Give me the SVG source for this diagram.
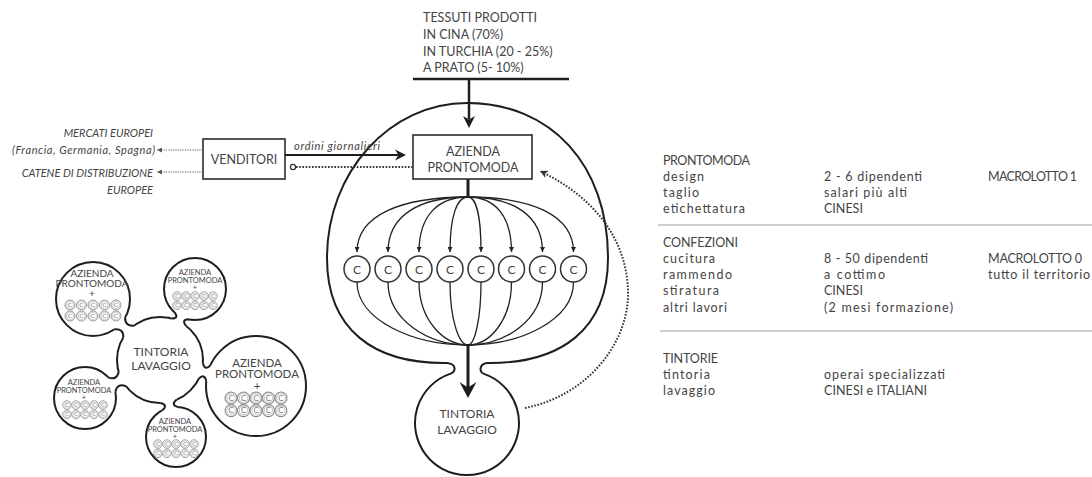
<svg xmlns="http://www.w3.org/2000/svg" xmlns:xlink="http://www.w3.org/1999/xlink" width="1092" height="477" viewBox="0 0 1092 477">
<style>
.t{font-family:Lato,"Liberation Sans",sans-serif;fill:#444;font-size:12.5px}
.it{font-style:italic;font-size:11px}
.mid{text-anchor:middle}
.end{text-anchor:end}
.ln{fill:none;stroke:#1e1e1e;stroke-width:2}
.shape{fill:#fff;stroke:#1e1e1e;stroke-width:2}
.fan{fill:none;stroke:#222;stroke-width:1.3}
.dot{fill:none;stroke:#333;stroke-width:2;stroke-dasharray:1.6 1.6}
.dotl{fill:none;stroke:#555;stroke-width:1.2;stroke-dasharray:1.2 1.2}
.cc{fill:#fff;stroke:#333;stroke-width:1.5}
.sep{stroke:#cfcfcf;stroke-width:2}
.neckfill{fill:#fff;stroke:none}
.small{fill:#fff;stroke:#888;stroke-width:0.9}
</style>
<defs>
<marker id="ah" viewBox="0 0 10 10" refX="10" refY="5" markerWidth="5" markerHeight="5" markerUnits="userSpaceOnUse" orient="auto"><path d="M0,0 L10,5 L0,10 z" fill="#222"/></marker>
<marker id="ahd" viewBox="0 0 10 10" refX="10" refY="5" markerWidth="8" markerHeight="8" markerUnits="userSpaceOnUse" orient="auto"><path d="M0,0 L10,5 L0,10 L3,5 z" fill="#333"/></marker>
<marker id="ahs" viewBox="0 0 10 10" refX="10" refY="5" markerWidth="5" markerHeight="5" markerUnits="userSpaceOnUse" orient="auto"><path d="M0,0 L10,5 L0,10 z" fill="#555"/></marker>
<g id="c"><circle r="5" class="small"/><circle r="3.6" fill="none" stroke="#aaa" stroke-width="0.6"/><text y="2.4" class="t mid" style="font-size:6.5px;fill:#777">C</text></g>
</defs>

<g id="tessuti">
<text class="t" x="423" y="22">TESSUTI PRODOTTI</text>
<text class="t" x="423" y="38.5">IN CINA (70%)</text>
<text class="t" x="423" y="55.5">IN TURCHIA (20 - 25%)</text>
<text class="t" x="423" y="72">A PRATO (5- 10%)</text>
<line x1="413" y1="79" x2="569" y2="79" stroke="#1e1e1e" stroke-width="2.5"/>
</g>

<g id="sistema">
<path class="shape" d="M484,373.9 A52 52 0 1 1 450,373.9 C456,372 457,364 447,363 C374,364 327,330 327,258 C327,172 390,103 467,103 C551,103 608,165 608,258 C608,330 560,364 487,363 C479,364 479,372 484,373.9 Z"/>
</g>

<g id="venditori">
<rect x="203" y="139" width="82" height="40" fill="#fff" stroke="#1e1e1e" stroke-width="1.5"/>
<text class="t mid" x="244" y="164">VENDITORI</text>
</g>

<g id="mercati">
<text class="t it end" x="153" y="137">MERCATI EUROPEI</text>
<text class="t it end" x="155" y="154" textLength="143">(Francia, Germania, Spagna)</text>
</g>
<g id="catene">
<text class="t it end" x="153" y="177">CATENE DI DISTRIBUZIONE</text>
<text class="t it end" x="153" y="194">EUROPEE</text>
</g>

<g id="azienda">
<rect x="413" y="135" width="119" height="44" fill="#fff" stroke="#1e1e1e" stroke-width="1.5"/>
<text class="t mid" x="473" y="155.5">AZIENDA</text>
<text class="t mid" x="473" y="171.5">PRONTOMODA</text>
</g>

<g id="confezioni">
<circle class="cc" cx="357" cy="269" r="13"/><text class="t mid" x="357" y="273.5" style="font-size:12px">C</text>
<circle class="cc" cx="388" cy="269" r="13"/><text class="t mid" x="388" y="273.5" style="font-size:12px">C</text>
<circle class="cc" cx="419" cy="269" r="13"/><text class="t mid" x="419" y="273.5" style="font-size:12px">C</text>
<circle class="cc" cx="450" cy="269" r="13"/><text class="t mid" x="450" y="273.5" style="font-size:12px">C</text>
<circle class="cc" cx="481" cy="269" r="13"/><text class="t mid" x="481" y="273.5" style="font-size:12px">C</text>
<circle class="cc" cx="511.5" cy="269" r="13"/><text class="t mid" x="511.5" y="273.5" style="font-size:12px">C</text>
<circle class="cc" cx="542.5" cy="269" r="13"/><text class="t mid" x="542.5" y="273.5" style="font-size:12px">C</text>
<circle class="cc" cx="573.5" cy="269" r="13"/><text class="t mid" x="573.5" y="273.5" style="font-size:12px">C</text>
</g>

<g id="tintoria">
<text class="t mid" x="467" y="417.5" style="font-size:12px">TINTORIA</text>
<text class="t mid" x="467" y="433.5" style="font-size:12px">LAVAGGIO</text>
</g>

<g id="connettori">
<line x1="469" y1="79" x2="469" y2="119" stroke="#1e1e1e" stroke-width="2.5"/>
<path d="M469,128 L463,116 L469,119.5 L475,116 Z" fill="#1e1e1e"/>
<line x1="468" y1="179" x2="468" y2="198" stroke="#1e1e1e" stroke-width="3"/>
<path class="fan" marker-end="url(#ah)" d="M468,197 C401.4,197 357,215 357,252"/>
<path class="fan" marker-end="url(#ah)" d="M468,197 C420,197 388,215 388,252"/>
<path class="fan" marker-end="url(#ah)" d="M468,197 C438.6,197 419,215 419,252"/>
<path class="fan" marker-end="url(#ah)" d="M468,197 C457.2,197 450,215 450,252"/>
<path class="fan" marker-end="url(#ah)" d="M468,197 C475.8,197 481,215 481,252"/>
<path class="fan" marker-end="url(#ah)" d="M468,197 C494.1,197 511.5,215 511.5,252"/>
<path class="fan" marker-end="url(#ah)" d="M468,197 C512.7,197 542.5,215 542.5,252"/>
<path class="fan" marker-end="url(#ah)" d="M468,197 C531.3,197 573.5,215 573.5,252"/>
<path class="fan" d="M357,282 C357,320 412.5,345 468,345"/>
<path class="fan" d="M388,282 C388,320 428,345 468,345"/>
<path class="fan" d="M419,282 C419,320 443.5,345 468,345"/>
<path class="fan" d="M450,282 C450,320 459,345 468,345"/>
<path class="fan" d="M481,282 C481,320 474.5,345 468,345"/>
<path class="fan" d="M511.5,282 C511.5,320 489.8,345 468,345"/>
<path class="fan" d="M542.5,282 C542.5,320 505.3,345 468,345"/>
<path class="fan" d="M573.5,282 C573.5,320 520.8,345 468,345"/>
<line x1="468" y1="344" x2="468" y2="389" stroke="#1e1e1e" stroke-width="3"/>
<path d="M468,398 L459.5,382 L468,387.5 L476.5,382 Z" fill="#1e1e1e"/>
<path class="dot" marker-end="url(#ahd)" d="M525,408 C590,395 630,340 628,290 C626,235 590,195 540,171"/>
<line x1="285" y1="155" x2="399" y2="155" stroke="#1e1e1e" stroke-width="2"/>
<path d="M406,155 L395,149.5 L398.5,155 L395,160.5 Z" fill="#1e1e1e"/>
<text class="t it" x="294" y="150" textLength="86">ordini giornalieri</text>
<circle cx="293" cy="167" r="2.6" fill="#fff" stroke="#333" stroke-width="1.2"/>
<line class="dot" x1="296" y1="167" x2="413" y2="167"/>
<path class="dotl" marker-end="url(#ahs)" d="M203,150 L157,150"/>
<path class="dotl" marker-end="url(#ahs)" d="M203,172 L157,172"/>
</g>

<g id="cluster">
<g id="cl-tintoria"><circle class="shape" cx="160" cy="360" r="43"/></g>
<g id="cl-a"><circle class="shape" cx="93" cy="299" r="37"/></g>
<g id="cl-b"><circle class="shape" cx="195" cy="289" r="31"/></g>
<g id="cl-c"><circle class="shape" cx="256" cy="386" r="50"/></g>
<g id="cl-d"><circle class="shape" cx="85" cy="398" r="31"/></g>
<g id="cl-e"><circle class="shape" cx="176" cy="437" r="30"/></g>
<g id="cl-necks">
<g transform="translate(160,360) rotate(222.32)"><path class="neckfill" d="M42.25,-8 Q48.37,-1 54.48,-8 L57,-8 L57,8 L54.48,8 Q48.37,1 42.25,8 L39,8 L39,-8 Z"/><path class="ln" d="M42.25,-8 Q48.37,-1 54.48,-8 M42.25,8 Q48.37,1 54.48,8"/></g>
<g transform="translate(160,360) rotate(-63.76)"><path class="neckfill" d="M42.25,-8 Q45.75,-1 49.25,-8 L52,-8 L52,8 L49.25,8 Q45.75,1 42.25,8 L39,8 L39,-8 Z"/><path class="ln" d="M42.25,-8 Q45.75,-1 49.25,-8 M42.25,8 Q45.75,1 49.25,8"/></g>
<g transform="translate(160,360) rotate(15.15)"><path class="neckfill" d="M42.25,-8 Q46.18,-1 50.1,-8 L53,-8 L53,8 L50.1,8 Q46.18,1 42.25,8 L39,8 L39,-8 Z"/><path class="ln" d="M42.25,-8 Q46.18,-1 50.1,-8 M42.25,8 Q46.18,1 50.1,8"/></g>
<g transform="translate(160,360) rotate(153.13)"><path class="neckfill" d="M42.25,-8 Q48.19,-1 54.13,-8 L57,-8 L57,8 L54.13,8 Q48.19,1 42.25,8 L39,8 L39,-8 Z"/><path class="ln" d="M42.25,-8 Q48.19,-1 54.13,-8 M42.25,8 Q48.19,1 54.13,8"/></g>
<g transform="translate(160,360) rotate(78.26)"><path class="neckfill" d="M42.25,-8 Q45.99,-1 49.73,-8 L52.5,-8 L52.5,8 L49.73,8 Q45.99,1 42.25,8 L39,8 L39,-8 Z"/><path class="ln" d="M42.25,-8 Q45.99,-1 49.73,-8 M42.25,8 Q45.99,1 49.73,8"/></g>
</g>
<g id="cl-texts">
<text class="t mid" x="161" y="356" style="font-size:12px">TINTORIA</text>
<text class="t mid" x="161" y="370" style="font-size:12px">LAVAGGIO</text>

<text class="t mid" x="92" y="276.6" style="font-size:10px">AZIENDA</text>
<text class="t mid" x="92" y="286.6" style="font-size:10px">PRONTOMODA</text>
<text class="t mid" x="92" y="296.5" style="font-size:10px">+</text>
<g transform="translate(93,305)"><use href="#c" x="-23"/><use href="#c" x="-11.5"/><use href="#c"/><use href="#c" x="11.5"/><use href="#c" x="23"/><use href="#c" x="-23" y="11"/><use href="#c" x="-11.5" y="11"/><use href="#c" y="11"/><use href="#c" x="11.5" y="11"/><use href="#c" x="23" y="11"/></g>

<text class="t mid" x="195" y="274.7" style="font-size:7.5px">AZIENDA</text>
<text class="t mid" x="195" y="282.7" style="font-size:7.5px">PRONTOMODA</text>
<text class="t mid" x="195" y="290" style="font-size:7.5px">+</text>
<g transform="translate(195,296) scale(0.85)"><use href="#c" x="-21.2"/><use href="#c" x="-10.6"/><use href="#c"/><use href="#c" x="10.6"/><use href="#c" x="21.2"/><use href="#c" x="-21.2" y="11"/><use href="#c" x="-10.6" y="11"/><use href="#c" y="11"/><use href="#c" x="10.6" y="11"/><use href="#c" x="21.2" y="11"/></g>

<text class="t mid" x="257" y="366.5" style="font-size:11.5px">AZIENDA</text>
<text class="t mid" x="257" y="377.5" style="font-size:11.5px">PRONTOMODA</text>
<text class="t mid" x="257" y="390" style="font-size:11.5px">+</text>
<g transform="translate(256,398) scale(1.2)"><use href="#c" x="-20.8"/><use href="#c" x="-10.4"/><use href="#c"/><use href="#c" x="10.4"/><use href="#c" x="20.8"/><use href="#c" x="-20.8" y="10.5"/><use href="#c" x="-10.4" y="10.5"/><use href="#c" y="10.5"/><use href="#c" x="10.4" y="10.5"/><use href="#c" x="20.8" y="10.5"/></g>

<text class="t mid" x="84" y="384.7" style="font-size:7.5px">AZIENDA</text>
<text class="t mid" x="84" y="392.7" style="font-size:7.5px">PRONTOMODA</text>
<text class="t mid" x="84" y="400" style="font-size:7.5px">+</text>
<g transform="translate(85,405) scale(0.85)"><use href="#c" x="-21.2"/><use href="#c" x="-10.6"/><use href="#c"/><use href="#c" x="10.6"/><use href="#c" x="21.2"/><use href="#c" x="-21.2" y="11"/><use href="#c" x="-10.6" y="11"/><use href="#c" y="11"/><use href="#c" x="10.6" y="11"/><use href="#c" x="21.2" y="11"/></g>

<text class="t mid" x="175" y="423.7" style="font-size:7.5px">AZIENDA</text>
<text class="t mid" x="175" y="431.7" style="font-size:7.5px">PRONTOMODA</text>
<text class="t mid" x="175" y="439" style="font-size:7.5px">+</text>
<g transform="translate(176,444) scale(0.85)"><use href="#c" x="-21.2"/><use href="#c" x="-10.6"/><use href="#c"/><use href="#c" x="10.6"/><use href="#c" x="21.2"/><use href="#c" x="-21.2" y="11"/><use href="#c" x="-10.6" y="11"/><use href="#c" y="11"/><use href="#c" x="10.6" y="11"/><use href="#c" x="21.2" y="11"/></g>
</g>
</g>

<g id="tabella">
<g id="row-prontomoda">
<text class="t" x="663" y="164.5" textLength="87">PRONTOMODA</text>
<text class="t" x="663" y="180.8" textLength="41">design</text>
<text class="t" x="663" y="197.1" textLength="36">taglio</text>
<text class="t" x="663" y="213.4" textLength="82">etichettatura</text>
<text class="t" x="824" y="180.8" textLength="98">2 - 6 dipendenti</text>
<text class="t" x="824" y="197.1" textLength="83">salari più alti</text>
<text class="t" x="824" y="213.4">CINESI</text>
<text class="t" x="988" y="180.8" textLength="89">MACROLOTTO 1</text>
</g>
<line class="sep" x1="658" y1="225" x2="1092" y2="225"/>
<g id="row-confezioni">
<text class="t" x="663" y="246.5" textLength="75">CONFEZIONI</text>
<text class="t" x="663" y="262.8" textLength="52">cucitura</text>
<text class="t" x="663" y="279.1" textLength="69">rammendo</text>
<text class="t" x="663" y="295.4" textLength="56">stiratura</text>
<text class="t" x="663" y="311.7" textLength="64">altri lavori</text>
<text class="t" x="824" y="262.8" textLength="104">8 - 50 dipendenti</text>
<text class="t" x="824" y="279.1" textLength="61">a cottimo</text>
<text class="t" x="824" y="295.4">CINESI</text>
<text class="t" x="824" y="311.7" textLength="129">(2 mesi formazione)</text>
<text class="t" x="988" y="262.8" textLength="94">MACROLOTTO 0</text>
<text class="t" x="988" y="279.1" textLength="102">tutto il territorio</text>
</g>
<line class="sep" x1="660" y1="331" x2="1092" y2="331"/>
<g id="row-tintorie">
<text class="t" x="663" y="362.5" textLength="55">TINTORIE</text>
<text class="t" x="663" y="378.8" textLength="47">tintoria</text>
<text class="t" x="663" y="395.1" textLength="52">lavaggio</text>
<text class="t" x="824" y="378.8" textLength="121">operai specializzati</text>
<text class="t" x="824" y="395.1" textLength="103">CINESI e ITALIANI</text>
</g>
</g>
</svg>
